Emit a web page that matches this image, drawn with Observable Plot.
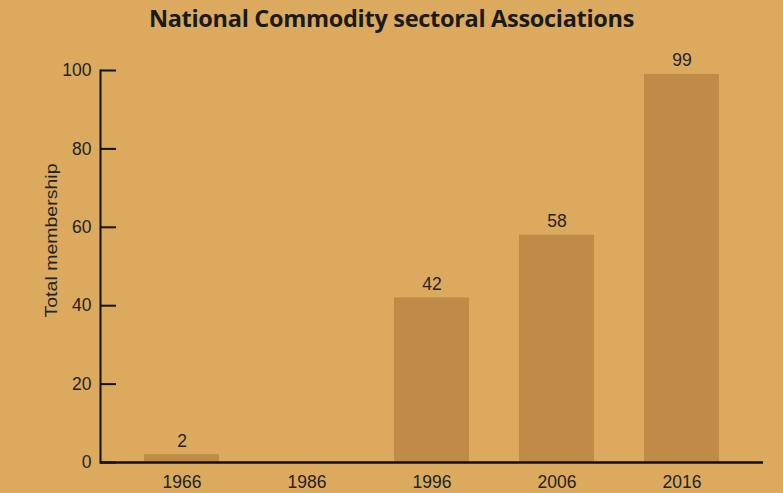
<!DOCTYPE html>
<html>
<head>
<meta charset="utf-8">
<script src="https://cdn.jsdelivr.net/npm/d3@7"></script>
<script src="https://cdn.jsdelivr.net/npm/@observablehq/plot@0.6"></script>
<style>
  html, body { margin: 0; padding: 0; background: #dcaa5e; width: 783px; height: 493px; overflow: hidden; }
  #title { height: 36px; line-height: 36px; text-align: center; font-family: "Open Sans", sans-serif; font-weight: 700; font-size: 23.5px; color: #1a1a1a; letter-spacing: -0.3px; }
  #chart svg { display: block; }
</style>
</head>
<body>
<div id="title">National Commodity sectoral Associations</div>
<div id="chart"></div>
<script>
const years = ["1966", "1986", "1996", "2006", "2016"];
const members = [2, null, 42, 58, 99];
const yTicks = [0, 20, 40, 60, 80, 100];
const yLabel = "Total membership";

const data = years.map((y, i) => ({year: y, value: members[i]}));
const labelled = data.filter(d => d.value != null);

const font = "Liberation Sans, Arial, sans-serif";

const plot = Plot.plot({
  width: 783,
  height: 457,
  marginLeft: 100,
  marginRight: 20,
  marginTop: 34,
  marginBottom: 31,
  style: {background: "transparent", fontFamily: font, fontSize: "17.5px", color: "#222"},
  x: {domain: years, paddingInner: 0.404, paddingOuter: 0.338, label: null},
  y: {domain: [0, 100], label: null},
  marks: [
    Plot.barY(labelled, {x: "year", y: "value", fill: "#be8c46"}),
    Plot.text(labelled, {x: "year", y: "value", text: d => String(d.value), lineAnchor: "bottom", dy: -8, fill: "#2a2228", fontSize: 17.5}),
    Plot.axisX({tickSize: 0, tickPadding: 13, fontSize: 17.5, fill: "#222"}),
    Plot.axisY({ticks: yTicks, tickSize: 0, tickPadding: 9, fontSize: 17.5, fill: "#222", label: null}),
    Plot.axisY({ticks: yTicks, tickSize: 16, dx: 16, text: null, strokeWidth: 2, stroke: "#111", label: null}),
    Plot.frame({anchor: "left", strokeWidth: 2, stroke: "#111"}),
    Plot.ruleY([0], {strokeWidth: 2.5, stroke: "#111"}),
    Plot.text([yLabel], {frameAnchor: "left", textAnchor: "middle", rotate: -90, dx: -49, dy: -26, fontSize: 17, fill: "#222", text: d => d, className: "ylab"})
  ]
});
document.getElementById("chart").appendChild(plot);
d3.select(plot).selectAll(".ylab text").attr("textLength", 154).attr("lengthAdjust", "spacingAndGlyphs");
</script>
</body>
</html>
